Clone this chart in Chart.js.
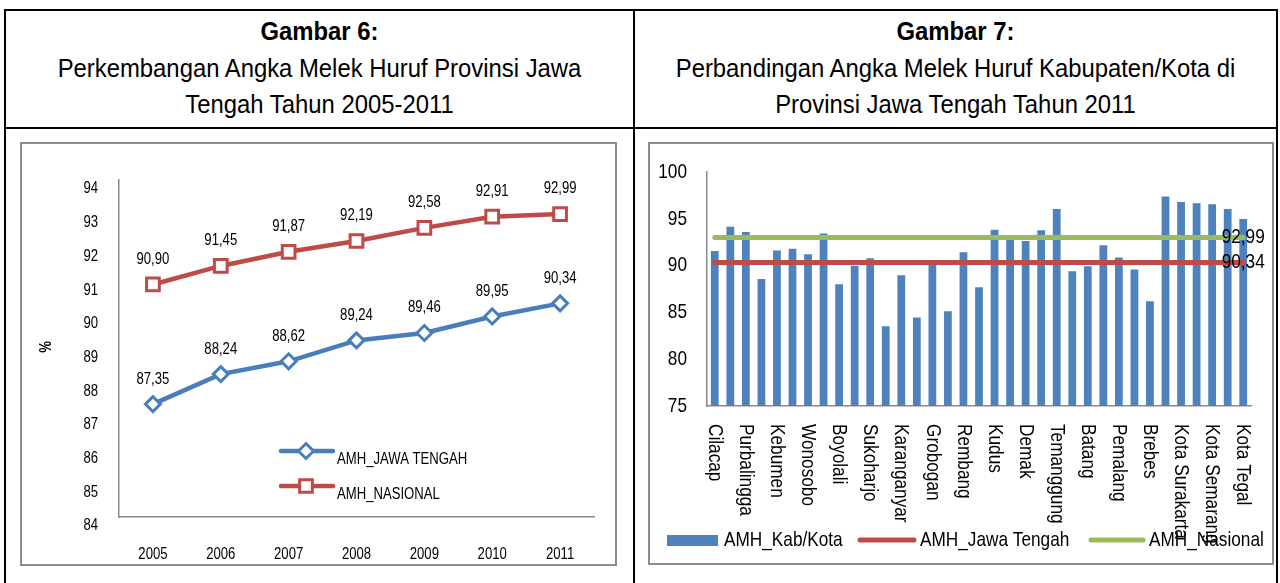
<!DOCTYPE html>
<html>
<head>
<meta charset="utf-8">
<script src="https://cdn.jsdelivr.net/npm/chart.js@4.4.1/dist/chart.umd.min.js"></script>
<style>
  body { margin: 0; width: 1280px; height: 583px; overflow: hidden; background: #fff; position: relative; font-family: 'Liberation Sans', Arial, sans-serif; }
  .ln { position: absolute; background: #000; }
  .box { position: absolute; border: 2px solid #8c8c8c; box-sizing: border-box; }
  .head { position: absolute; text-align: center; font-size: 26.5px; line-height: 36.7px; color: #000; transform: scaleX(0.9); transform-origin: center top; white-space: nowrap; }
  .head b { font-weight: bold; }
  canvas { position: absolute; }
</style>
</head>
<body>
  <!-- garis tabel -->
  <div class="ln" style="left:4px; top:9px; width:1274px; height:2px"></div>
  <div class="ln" style="left:4px; top:127px; width:1274px; height:2px"></div>
  <div class="ln" style="left:4px; top:9px; width:2px; height:580px"></div>
  <div class="ln" style="left:633px; top:9px; width:2px; height:580px"></div>
  <div class="ln" style="left:1276px; top:9px; width:2px; height:580px"></div>

  <div class="head" style="left:6px; width:627px; top:13px">
    <b>Gambar 6:</b><br>Perkembangan Angka Melek Huruf Provinsi Jawa<br>Tengah Tahun 2005-2011
  </div>
  <div class="head" style="left:635px; width:641px; top:13px">
    <b>Gambar 7:</b><br>Perbandingan Angka Melek Huruf Kabupaten/Kota di<br>Provinsi Jawa Tengah Tahun 2011
  </div>

  <div class="box" style="left:20px; top:142px; width:597px; height:424px"></div>
  <canvas id="chartTahun" width="595" height="422" style="left:21px; top:143px"></canvas>

  <div class="box" style="left:648px; top:142px; width:626px; height:423px"></div>
  <canvas id="chartKab" width="624" height="421" style="left:649px; top:143px"></canvas>

<script>
const fontName = "'Liberation Sans', Arial, sans-serif";

// Gambar 6
const tahun = ['2005', '2006', '2007', '2008', '2009', '2010', '2011'];
const amhJawaTengah = [87.35, 88.24, 88.62, 89.24, 89.46, 89.95, 90.34];
const amhNasional = [90.90, 91.45, 91.87, 92.19, 92.58, 92.91, 92.99];

// Gambar 7
const kabKota = [
  'Cilacap', 'Banyumas', 'Purbalingga', 'Banjarnegara', 'Kebumen', 'Purworejo', 'Wonosobo',
  'Magelang', 'Boyolali', 'Klaten', 'Sukoharjo', 'Wonogiri', 'Karanganyar', 'Sragen',
  'Grobogan', 'Blora', 'Rembang', 'Pati', 'Kudus', 'Jepara', 'Demak', 'Semarang',
  'Temanggung', 'Kendal', 'Batang', 'Pekalongan', 'Pemalang', 'Tegal', 'Brebes',
  'Kota Magelang', 'Kota Surakarta', 'Kota Salatiga', 'Kota Semarang', 'Kota Pekalongan', 'Kota Tegal'
];
const amhKabKota = [
  91.57, 94.16, 93.58, 88.56, 91.62, 91.80, 91.22,
  93.42, 88.01, 89.99, 90.78, 83.53, 88.98, 84.46,
  90.25, 85.12, 91.43, 87.70, 93.83, 92.89, 92.64, 93.78,
  96.05, 89.40, 89.94, 92.18, 90.86, 89.58, 86.20,
  97.37, 96.80, 96.66, 96.55, 96.05, 94.98
];

const biru = '#4a7ebb';
const merah = '#be4b48';
const hijau = '#9bbb59';
const abu = '#8a8a8a';

function fmt(v) {
  return v.toFixed(2).replace('.', ',');
}

// teks sempit (seperti Arial Narrow)
function teks(ctx, str, x, y, align, rot) {
  ctx.save();
  ctx.translate(x, y);
  if (rot) ctx.rotate(rot);
  ctx.scale(0.82, 1);
  ctx.textAlign = align;
  ctx.fillText(str, 0, 0);
  ctx.restore();
}

function marker(ctx, style, x, y, r, color) {
  ctx.beginPath();
  if (style === 'rect') {
    const s = r * Math.SQRT1_2;
    ctx.rect(x - s, y - s, 2 * s, 2 * s);
  } else {
    ctx.moveTo(x - r, y); ctx.lineTo(x, y - r); ctx.lineTo(x + r, y); ctx.lineTo(x, y + r);
    ctx.closePath();
  }
  ctx.fillStyle = '#fff';
  ctx.fill();
  ctx.lineWidth = 3;
  ctx.strokeStyle = color;
  ctx.stroke();
}

const extraTahun = {
  id: 'extraTahun',
  afterDatasetsDraw(chart) {
    const ctx = chart.ctx;
    const xs = chart.scales.x, ys = chart.scales.y;
    ctx.save();
    ctx.font = '16px ' + fontName;
    ctx.fillStyle = '#000';
    ctx.textBaseline = 'middle';

    ys.ticks.forEach(t => teks(ctx, String(t.value), 77, ys.getPixelForValue(t.value) + 9, 'right'));
    tahun.forEach((t, i) => teks(ctx, t, xs.getPixelForValue(i), 412, 'center'));

    chart.data.datasets.forEach((ds, i) => {
      chart.getDatasetMeta(i).data.forEach((pt, j) => {
        teks(ctx, fmt(ds.data[j]), pt.x, pt.y - 25, 'center');
      });
    });

    ctx.font = 'bold 16px ' + fontName;
    teks(ctx, '%', 26, 204, 'center', -Math.PI / 2);

    // legenda
    ctx.font = '16px ' + fontName;
    const items = [
      { text: 'AMH_JAWA TENGAH', color: biru, style: 'rectRot', r: 7.5, y: 308 },
      { text: 'AMH_NASIONAL', color: merah, style: 'rect', r: 9, y: 343 }
    ];
    items.forEach(it => {
      ctx.beginPath();
      ctx.moveTo(260, it.y);
      ctx.lineTo(312, it.y);
      ctx.lineWidth = 4.5;
      ctx.lineCap = 'round';
      ctx.strokeStyle = it.color;
      ctx.stroke();
      marker(ctx, it.style, 285, it.y, it.r, it.color);
      ctx.fillStyle = '#000';
      teks(ctx, it.text, 316, it.y + 9, 'left');
    });
    ctx.restore();
  }
};

const extraKab = {
  id: 'extraKab',
  afterDatasetsDraw(chart) {
    const ctx = chart.ctx;
    const xs = chart.scales.x, ys = chart.scales.y;
    ctx.save();
    ctx.font = '21px ' + fontName;
    ctx.fillStyle = '#000';
    ctx.textBaseline = 'middle';

    ys.ticks.forEach(t => teks(ctx, String(t.value), 38, ys.getPixelForValue(t.value), 'right'));

    // label kategori, diputar searah jarum jam
    kabKota.forEach((name, i) => {
      if (i % 2) return;
      teks(ctx, name, xs.getPixelForValue(i), xs.top + 18, 'left', Math.PI / 2);
    });

    // nilai di ujung garis
    [0, 1].forEach(i => {
      const ds = chart.data.datasets[i];
      const pts = chart.getDatasetMeta(i).data;
      const last = pts[pts.length - 1];
      teks(ctx, fmt(ds.data[ds.data.length - 1].y), last.x, last.y, 'center');
    });

    // legenda
    ctx.fillStyle = '#4f81bd';
    ctx.fillRect(18, 392, 51, 11);
    ctx.lineWidth = 5;
    ctx.lineCap = 'round';
    ctx.strokeStyle = merah;
    ctx.beginPath(); ctx.moveTo(211, 397); ctx.lineTo(265, 397); ctx.stroke();
    ctx.strokeStyle = hijau;
    ctx.beginPath(); ctx.moveTo(442, 397); ctx.lineTo(494, 397); ctx.stroke();
    ctx.fillStyle = '#000';
    teks(ctx, 'AMH_Kab/Kota', 75, 397, 'left');
    teks(ctx, 'AMH_Jawa Tengah', 271, 397, 'left');
    teks(ctx, 'AMH_Nasional', 500, 397, 'left');
    ctx.restore();
  }
};

const dataTahun = {
  labels: tahun,
  datasets: [{
    label: 'AMH_JAWA TENGAH',
    data: amhJawaTengah,
    borderColor: biru,
    borderWidth: 4.5,
    pointStyle: 'rectRot',
    pointRadius: 7.5,
    pointBorderWidth: 3,
    pointBackgroundColor: '#fff',
    pointBorderColor: biru,
    tension: 0
  }, {
    label: 'AMH_NASIONAL',
    data: amhNasional,
    borderColor: merah,
    borderWidth: 4.5,
    pointStyle: 'rect',
    pointRadius: 9,
    pointBorderWidth: 3,
    pointBackgroundColor: '#fff',
    pointBorderColor: merah,
    tension: 0
  }]
};

const configTahun = {
  type: 'line',
  data: dataTahun,
  options: {
    responsive: false,
    animation: false,
    layout: { padding: { left: 0, top: 37, right: 22, bottom: 0 } },
    plugins: { legend: { display: false }, tooltip: { enabled: false } },
    scales: {
      x: {
        offset: true,
        grid: { display: false, drawTicks: false },
        border: { display: true, color: abu, width: 1.5 },
        ticks: { display: false },
        afterFit: s => { s.height = 48; }
      },
      y: {
        min: 84,
        max: 94,
        grid: { display: false, drawTicks: false },
        border: { display: true, color: abu, width: 1.5 },
        ticks: { display: false, stepSize: 1 },
        afterFit: s => { s.width = 98; }
      }
    }
  },
  plugins: [extraTahun]
};

const chartTahun = new Chart(document.getElementById('chartTahun'), configTahun);

const dataKab = {
  labels: kabKota,
  datasets: [{
    type: 'line',
    label: 'AMH_Nasional',
    data: [
      { x: kabKota[0], y: amhNasional[amhNasional.length - 1] },
      { x: kabKota[kabKota.length - 1], y: amhNasional[amhNasional.length - 1] }
    ],
    borderColor: hijau,
    borderWidth: 5,
    borderCapStyle: 'round',
    pointRadius: 0
  }, {
    type: 'line',
    label: 'AMH_Jawa Tengah',
    data: [
      { x: kabKota[0], y: amhJawaTengah[amhJawaTengah.length - 1] },
      { x: kabKota[kabKota.length - 1], y: amhJawaTengah[amhJawaTengah.length - 1] }
    ],
    borderColor: merah,
    borderWidth: 5,
    borderCapStyle: 'round',
    pointRadius: 0
  }, {
    type: 'bar',
    label: 'AMH_Kab/Kota',
    data: amhKabKota,
    backgroundColor: '#4f81bd',
    barPercentage: 0.5,
    categoryPercentage: 1
  }]
};

const configKab = {
  type: 'bar',
  data: dataKab,
  options: {
    responsive: false,
    animation: false,
    layout: { padding: { left: 0, top: 29, right: 22, bottom: 0 } },
    plugins: { legend: { display: false }, tooltip: { enabled: false } },
    scales: {
      x: {
        grid: { display: false, drawTicks: false },
        border: { display: true, color: abu, width: 1.5 },
        ticks: { display: false },
        afterFit: s => { s.height = 158; }
      },
      y: {
        min: 75,
        max: 100,
        grid: { display: false, drawTicks: false },
        border: { display: true, color: abu, width: 1.5 },
        ticks: { display: false, stepSize: 5 },
        afterFit: s => { s.width = 58; }
      }
    }
  },
  plugins: [extraKab]
};

const chartKab = new Chart(document.getElementById('chartKab'), configKab);
</script>
</body>
</html>
